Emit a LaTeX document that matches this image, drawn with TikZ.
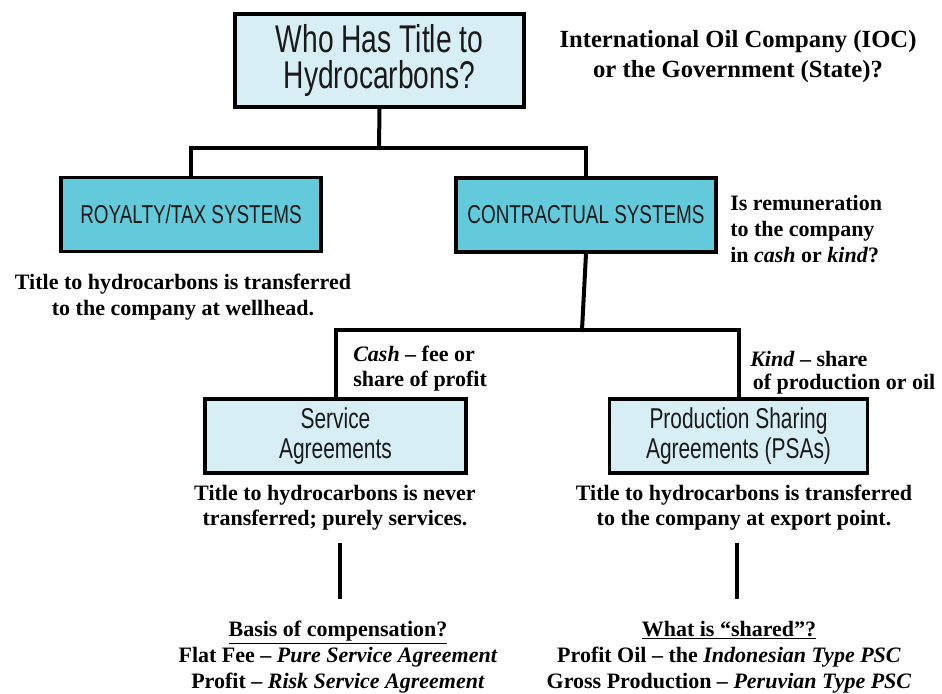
\documentclass[tikz,border=0pt]{standalone}
\usepackage{fontspec}
\setmainfont{Liberation Serif}
\newfontfamily\condfont[FakeStretch=0.73]{Liberation Sans}
\definecolor{lightbox}{HTML}{D7EEF5}
\definecolor{cyanbox}{HTML}{63CADB}
\definecolor{boxtext}{HTML}{1A1A1A}
\tikzset{
  boxbase/.style={draw=black, line width=2.4pt, rectangle, align=center, text=boxtext, inner sep=0pt},
  lightnode/.style={boxbase, fill=lightbox},
  cyannode/.style={boxbase, fill=cyanbox},
  conn/.style={line width=3pt, line cap=rect},
  note/.style={font=\bfseries\fontsize{16.5}{20}\selectfont, align=center, inner sep=0pt},
  notel/.style={font=\bfseries\fontsize{16.5}{19}\selectfont, align=left, inner sep=0pt, anchor=west},
}
\begin{document}
\begin{tikzpicture}[x=0.75pt,y=-0.75pt]
\path[use as bounding box, fill=white] (0,0) rectangle (942,693);

% boxes
\node[lightnode, minimum width=289*0.75pt, minimum height=93*0.75pt,
      font=\condfont\fontsize{29}{27}\selectfont] (top) at (379.5,60.5)
      {Who Has Title to\\Hydrocarbons?};
\node[cyannode, minimum width=260*0.75pt, minimum height=74*0.75pt,
      font=\condfont\fontsize{19.4}{22}\selectfont] (roy) at (191,214.5)
      {ROYALTY/TAX SYSTEMS};
\node[cyannode, minimum width=260*0.75pt, minimum height=74*0.75pt,
      font=\condfont\fontsize{19.4}{22}\selectfont] (con) at (586,215)
      {CONTRACTUAL SYSTEMS};
\node[lightnode, minimum width=261*0.75pt, minimum height=74*0.75pt,
      font=\condfont\fontsize{21.5}{22.5}\selectfont] (serv) at (335.5,436)
      {Service\\Agreements};
\node[lightnode, minimum width=258*0.75pt, minimum height=74*0.75pt,
      font=\condfont\fontsize{21.5}{22.5}\selectfont] (psa) at (738.5,436)
      {Production Sharing\\Agreements (PSAs)};

% connectors
\coordinate (j1) at (379,148);
\coordinate (j2) at (582,330);
\draw[conn] (top.south) -- (j1);
\draw[conn] (roy.north) |- (j1) -| (con.north);
\draw[conn] (con.south) -- (j2);
\draw[conn] (serv.north) |- (j2) -| (psa.north);
\coordinate (l1a) at (340,545);
\coordinate (l1b) at (340,597);
\coordinate (l2a) at (737,545);
\coordinate (l2b) at (737,597);
\draw[conn] (l1a) -- (l1b);
\draw[conn] (l2a) -- (l2b);

% texts
\node[note, font=\bfseries\fontsize{18.5}{22.5}\selectfont] (ioc) at (738,57)
  {International Oil Company (IOC)\\or the Government (State)?};
\node[notel, font=\bfseries\fontsize{16.5}{19.5}\selectfont] (rem) at (730,229)
  {Is remuneration\\to the company\\in \textit{cash} or \textit{kind}?};
\node[note] (well) at (183,297)
  {Title to hydrocarbons is transferred\\to the company at wellhead.};
\node[notel, font=\bfseries\fontsize{16.5}{18.75}\selectfont] (cash) at (353,369)
  {\textit{Cash} -- fee or\\share of profit};
\node[notel, font=\bfseries\fontsize{16.5}{17.5}\selectfont] (kind) at (750,373)
  {\textit{Kind} -- share\\\hspace{2pt}of production or oil};
\node[note, font=\bfseries\fontsize{16.5}{18.75}\selectfont] (servt) at (335,508)
  {Title to hydrocarbons is never\\transferred; purely services.};
\node[note, font=\bfseries\fontsize{16.5}{18.75}\selectfont] (psat) at (744,508)
  {Title to hydrocarbons is transferred\\to the company at export point.};
\node[note, font=\bfseries\fontsize{16.5}{19.5}\selectfont] (basis) at (338,657)
  {\underline{Basis of compensation?}\\Flat Fee -- \textit{Pure Service Agreement}\\Profit -- \textit{Risk Service Agreement}};
\node[note, font=\bfseries\fontsize{16.5}{19.5}\selectfont] (shared) at (729,657)
  {\underline{What is “shared”?}\\Profit Oil -- the \textit{Indonesian Type PSC}\\Gross Production -- \textit{Peruvian Type PSC}};
\end{tikzpicture}
\end{document}
